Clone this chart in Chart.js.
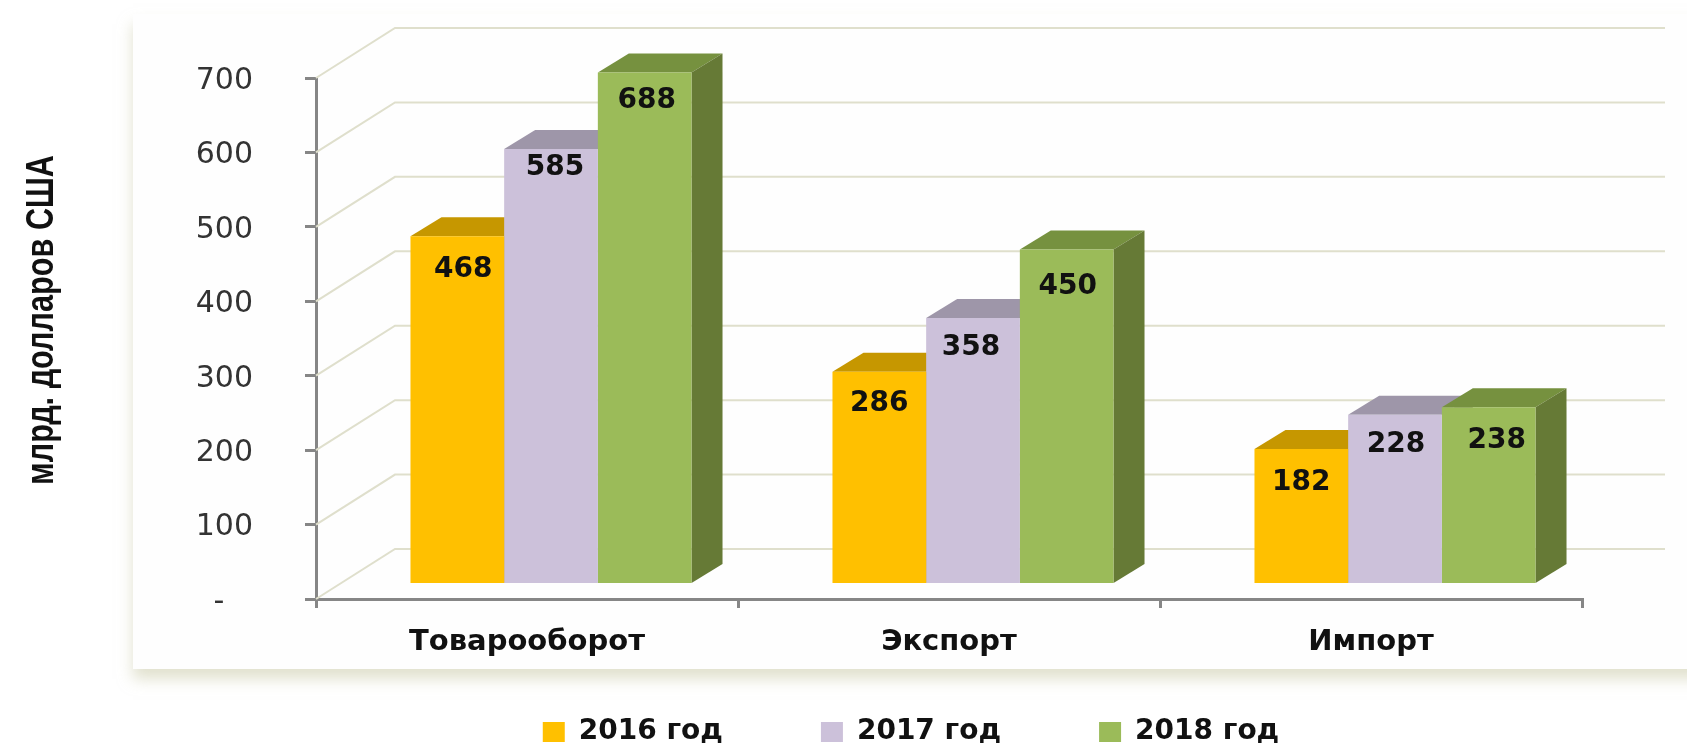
<!DOCTYPE html>
<html>
<head>
<meta charset="utf-8">
<style>
  html, body { margin: 0; padding: 0; background: #fff; }
  #wrap { width: 1687px; height: 746px; }
</style>
<script src="https://cdn.jsdelivr.net/npm/chart.js@4"></script>
</head>
<body>
<div id="wrap"><canvas id="tradeChart"></canvas></div>
<script>
const categories = ["Товарооборот", "Экспорт", "Импорт"];
const seriesNames = ["2016 год", "2017 год", "2018 год"];
const values2016 = [468, 286, 182];
const values2017 = [585, 358, 228];
const values2018 = [688, 450, 238];
const yTicks = [0, 100, 200, 300, 400, 500, 600, 700];
const yTitle = "млрд. долларов США";

const frontColors = ["#FFC000", "#CCC1DA", "#9BBB59"];
const topColors = ["#C69700", "#9E96A9", "#76913F"];
const sideColors = ["#A67F00", "#8A8295", "#667A36"];
const gridColor = "#DFDFCC";
const axisColor = "#868686";

// how far below the bar top each value label sits, per series and category
const labelDrop = [[34, 32, 34], [19, 30, 30], [28, 37, 33]];
const labelShift = [[6, 0, 0], [4, -2, 1], [2, 1, 8]];

// the bars stand in front of the axis plane, the wall stands behind it
const barOffset = { x: 24, y: -14.5 };
const barDepth = { x: 31, y: -19 };
const wallOffset = { x: 79, y: -50 };
const wallRight = 1665;

const fake3d = {
    id: "fake3d",
    beforeDraw(chart) {
        // panel behind the plot
        const c = chart.ctx;
        c.save();
        c.shadowColor = "rgba(200, 200, 165, 0.55)";
        c.shadowBlur = 14;
        c.shadowOffsetY = 10;
        c.fillStyle = "#FEFEFE";
        c.fillRect(133, 14, 1700, 655);
        c.restore();

        // axis title, squeezed because the source font is narrow
        c.save();
        c.translate(43, 320);
        c.rotate(-Math.PI / 2);
        c.font = "bold 38px 'Liberation Sans'";
        c.fillStyle = "#111";
        c.textAlign = "center";
        c.fillText(yTitle, 0, 0, 330);
        c.restore();
    },
    afterLayout(chart) {
        // move the legend to where it sits in the picture
        const legend = chart.legend;
        legend.left += 120;
        legend.right += 120;
        legend.top += 10;
        // scale labels get clipped to the scale box, give them room
        chart.scales.x.bottom += 60;
    },
    beforeDatasetsDraw(chart) {
        const c = chart.ctx;
        const y = chart.scales.y;
        const left = chart.chartArea.left;

        // wall grid
        c.save();
        c.strokeStyle = gridColor;
        c.lineWidth = 2;
        yTicks.forEach(t => {
            const py = y.getPixelForValue(t);
            c.beginPath();
            c.moveTo(left, py);
            c.lineTo(left + wallOffset.x, py + wallOffset.y);
            c.lineTo(wallRight, py + wallOffset.y);
            c.stroke();
        });
        c.restore();

        // top and side faces go under the front faces
        c.save();
        c.translate(barOffset.x, barOffset.y);
        chart.data.datasets.forEach((ds, i) => {
            chart.getDatasetMeta(i).data.forEach(bar => {
                const l = bar.x - bar.width / 2;
                const r = bar.x + bar.width / 2;
                c.fillStyle = topColors[i];
                c.beginPath();
                c.moveTo(l, bar.y);
                c.lineTo(l + barDepth.x, bar.y + barDepth.y);
                c.lineTo(r + barDepth.x, bar.y + barDepth.y);
                c.lineTo(r, bar.y);
                c.fill();
                c.fillStyle = sideColors[i];
                c.beginPath();
                c.moveTo(r, bar.y);
                c.lineTo(r + barDepth.x, bar.y + barDepth.y);
                c.lineTo(r + barDepth.x, bar.base + barDepth.y);
                c.lineTo(r, bar.base);
                c.fill();
            });
        });
        // stays translated for the bars, restored in afterDatasetsDraw
    },
    afterDatasetsDraw(chart) {
        const c = chart.ctx;
        c.font = "bold 28px 'DejaVu Sans'";
        c.fillStyle = "#111";
        c.textAlign = "center";
        c.textBaseline = "middle";
        chart.data.datasets.forEach((ds, i) => {
            chart.getDatasetMeta(i).data.forEach((bar, j) => {
                c.fillText(ds.data[j], bar.x + labelShift[i][j], bar.y + labelDrop[i][j]);
            });
        });
        c.restore();
    }
};

const datasetValues = [values2016, values2017, values2018];

new Chart(document.getElementById("tradeChart"), {
    type: "bar",
    plugins: [fake3d],
    data: {
        labels: categories,
        datasets: seriesNames.map((name, i) => ({
            label: name,
            data: datasetValues[i],
            backgroundColor: frontColors[i],
            categoryPercentage: 0.666,
            barPercentage: 1,
            clip: false
        }))
    },
    options: {
        responsive: true,
        maintainAspectRatio: false,
        animation: false,
        layout: { padding: { top: 78, right: 105, left: 0, bottom: 0 } },
        plugins: {
            tooltip: { enabled: false },
            legend: {
                position: "bottom",
                labels: {
                    boxWidth: 22,
                    boxHeight: 20,
                    padding: 98,
                    color: "#111",
                    font: { family: "'DejaVu Sans'", size: 28, weight: "bold" }
                }
            }
        },
        scales: {
            x: {
                grid: { offset: true, drawOnChartArea: false, color: axisColor, lineWidth: 3, tickLength: 9 },
                border: { color: axisColor, width: 3 },
                ticks: {
                    color: "#111",
                    padding: 17,
                    maxRotation: 0,
                    autoSkip: false,
                    font: { family: "'DejaVu Sans'", size: 29, weight: "bold" }
                },
                afterFit(scale) { scale.height = 11; }
            },
            y: {
                min: 0,
                max: 700,
                afterFit(scale) { scale.width = 316; },
                afterBuildTicks(scale) { scale.ticks = yTicks.map(v => ({ value: v })); },
                grid: { drawOnChartArea: false, color: axisColor, lineWidth: 3, tickLength: 11 },
                border: { color: axisColor, width: 3 },
                ticks: {
                    color: "#333",
                    padding: 52,
                    labelOffset: 3,
                    font: { family: "'DejaVu Sans'", size: 30 },
                    callback: v => (v === 0 ? "-   " : String(v))
                }
            }
        }
    }
});
</script>
</body>
</html>
